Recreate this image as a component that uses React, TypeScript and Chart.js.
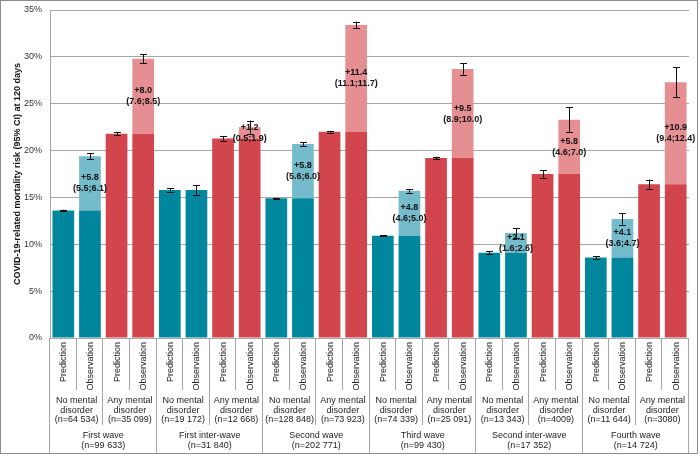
import { useEffect, useRef } from 'react';
import { Chart, registerables, type Plugin } from 'chart.js';

Chart.register(...registerables);

// periods and their sizes
const periods = ['First wave', 'First inter-wave', 'Second wave', 'Third wave', 'Second inter-wave', 'Fourth wave'];
const periodN = ['99 633', '31 840', '202 771', '99 430', '17 352', '14 724'];

// two groups per period
const groupNames = [['No mental', 'disorder'], ['Any mental', 'disorder']];
const groupN = ['64 534', '35 099', '19 172', '12 668', '128 848', '73 923', '74 339', '25 091', '13 343', '4009', '11 644', '3080'];

const barKinds = ['Prediction', 'Observation'];

// risk in %, one per group
const predicted = [13.6, 21.8, 15.8, 21.3, 14.9, 22.0, 10.9, 19.2, 9.1, 17.5, 8.6, 16.4];
const predLow = [13.5, 21.65, 15.6, 21.05, 14.85, 21.9, 10.85, 19.05, 8.95, 17.1, 8.45, 15.9];
const predHigh = [13.7, 21.95, 16.0, 21.55, 14.95, 22.1, 10.95, 19.35, 9.25, 17.9, 8.75, 16.9];

const observed = [19.4, 29.8, 15.8, 22.5, 20.7, 33.4, 15.7, 28.7, 11.2, 23.3, 12.7, 27.3];
const obsLow = [19.1, 29.3, 15.3, 21.8, 20.5, 33.05, 15.5, 28.1, 10.7, 22.0, 12.1, 25.7];
const obsHigh = [19.7, 30.3, 16.3, 23.2, 20.9, 33.75, 15.9, 29.3, 11.7, 24.6, 13.3, 28.9];

// excess mortality (observed - predicted) with CI
const excess: (number | null)[] = [5.8, 8.0, null, 1.2, 5.8, 11.4, 4.8, 9.5, 2.1, 5.8, 4.1, 10.9];
const excessLow = [5.5, 7.6, 0, 0.5, 5.6, 11.1, 4.6, 8.9, 1.6, 4.6, 3.6, 9.4];
const excessHigh = [6.1, 8.5, 0, 1.9, 6.0, 11.7, 5.0, 10.0, 2.6, 7.0, 4.7, 12.4];

const yTicks = [0, 5, 10, 15, 20, 25, 30, 35];

const FONT = '"Liberation Sans", Arial, sans-serif';
const TEAL = '#00879d';
const TEAL_LIGHT = '#74bbcc';
const RED = '#d3454d';
const RED_LIGHT = '#e68f92';

const barLabels = predicted.flatMap(() => barKinds);
const baseValues = predicted.flatMap(p => [p, p]);
const extraValues = predicted.flatMap((p, g) => [0, Math.max(0, +(observed[g] - p).toFixed(1))]);
const baseColors = barLabels.map((_, j) => (Math.floor(j / 2) % 2 === 0 ? TEAL : RED));
const extraColors = barLabels.map((_, j) => (Math.floor(j / 2) % 2 === 0 ? TEAL_LIGHT : RED_LIGHT));

const overlay: Plugin<'bar'> = {
    id: 'overlay',
    afterDatasetsDraw(chart) {
        const { ctx } = chart;
        const x = chart.scales.x;
        const y = chart.scales.y;
        ctx.save();

        // excess labels in the light segment
        ctx.font = `bold 9px ${FONT}`;
        ctx.fillStyle = '#111';
        ctx.textAlign = 'center';
        ctx.textBaseline = 'middle';
        excess.forEach((d, g) => {
            if (d == null) return;
            const cx = x.getPixelForValue(g * 2 + 1);
            const mid = (y.getPixelForValue(predicted[g]) + y.getPixelForValue(observed[g])) / 2;
            ctx.fillText(`+${d.toFixed(1)}`, cx, mid - 5.5);
            ctx.fillText(`(${excessLow[g].toFixed(1)};${excessHigh[g].toFixed(1)})`, cx, mid + 5.5);
        });

        // error bars
        ctx.strokeStyle = '#111';
        ctx.lineWidth = 1;
        barLabels.forEach((_, j) => {
            const g = Math.floor(j / 2);
            const lo = j % 2 === 0 ? predLow[g] : obsLow[g];
            const hi = j % 2 === 0 ? predHigh[g] : obsHigh[g];
            const cx = Math.round(x.getPixelForValue(j)) + 0.5;
            const y1 = y.getPixelForValue(lo);
            const y2 = y.getPixelForValue(hi);
            ctx.beginPath();
            ctx.moveTo(cx, y1);
            ctx.lineTo(cx, y2);
            ctx.moveTo(cx - 3.5, Math.round(y1) + 0.5);
            ctx.lineTo(cx + 3.5, Math.round(y1) + 0.5);
            ctx.moveTo(cx - 3.5, Math.round(y2) + 0.5);
            ctx.lineTo(cx + 3.5, Math.round(y2) + 0.5);
            ctx.stroke();
        });
        ctx.restore();
    },
    afterDraw(chart) {
        const { ctx, chartArea } = chart;
        const x = chart.scales.x;
        const n = barLabels.length;
        const bottom = chartArea.bottom;
        const edge = (b: number) =>
            b === 0 ? chartArea.left : b === n ? chartArea.right : (x.getPixelForValue(b - 1) + x.getPixelForValue(b)) / 2;

        ctx.save();
        // separators
        ctx.strokeStyle = '#a6a6a6';
        ctx.lineWidth = 1;
        for (let b = 0; b <= n; b++) {
            const px = Math.round(edge(b)) - 0.5;
            const len = b % 4 === 0 ? 115 : b % 2 === 0 ? 87 : 52;
            ctx.beginPath();
            ctx.moveTo(px, bottom);
            ctx.lineTo(px, bottom + len);
            ctx.stroke();
        }

        ctx.font = `9px ${FONT}`;
        ctx.fillStyle = '#222';

        // Prediction / Observation, rotated
        ctx.textAlign = 'right';
        ctx.textBaseline = 'middle';
        barLabels.forEach((t, j) => {
            ctx.save();
            ctx.translate(x.getPixelForValue(j) + 0.5, bottom + 4);
            ctx.rotate(-Math.PI / 2);
            ctx.fillText(t, 0, 0);
            ctx.restore();
        });

        ctx.textAlign = 'center';
        groupN.forEach((nText, g) => {
            const cx = (edge(g * 2) + edge(g * 2 + 2)) / 2;
            const lines = [...groupNames[g % 2], `(n=${nText})`];
            lines.forEach((t, k) => ctx.fillText(t, cx, bottom + 63 + k * 9.3));
        });
        periods.forEach((p, i) => {
            const cx = (edge(i * 4) + edge(i * 4 + 4)) / 2;
            ctx.fillText(p, cx, bottom + 98);
            ctx.fillText(`(n=${periodN[i]})`, cx, bottom + 107.3);
        });

        // frame
        ctx.strokeStyle = '#8c8c8c';
        ctx.strokeRect(0.5, 0.5, 697, 453);
        ctx.restore();
    }
};

export default function App() {
    const canvas = useRef<HTMLCanvasElement>(null);

    useEffect(() => {
        document.body.style.margin = '0';
        const chart = new Chart(canvas.current as HTMLCanvasElement, {
            type: 'bar',
            data: {
                labels: barLabels,
                datasets: [
                    {
                        data: baseValues,
                        backgroundColor: baseColors,
                        barPercentage: 0.815,
                        categoryPercentage: 1
                    },
                    {
                        data: extraValues,
                        backgroundColor: extraColors,
                        barPercentage: 0.815,
                        categoryPercentage: 1
                    }
                ]
            },
            options: {
                animation: false,
                responsive: true,
                maintainAspectRatio: false,
                layout: { padding: { top: 10, right: 11, left: 0, bottom: 0 } },
                plugins: {
                    legend: { display: false },
                    tooltip: { enabled: false }
                },
                scales: {
                    x: {
                        stacked: true,
                        grid: { display: false },
                        border: { display: false },
                        ticks: { display: false },
                        afterFit: (s) => { s.height = 118; }
                    },
                    y: {
                        stacked: true,
                        min: yTicks[0],
                        max: yTicks[yTicks.length - 1],
                        afterBuildTicks: (s) => { s.ticks = yTicks.map(v => ({ value: v })); },
                        ticks: {
                            callback: (v) => `${v}%`,
                            padding: 8,
                            color: '#333',
                            font: { family: FONT, size: 9 }
                        },
                        grid: { color: '#a6a6a6', drawTicks: false },
                        border: { color: '#a6a6a6' },
                        title: {
                            display: true,
                            text: 'COVID-19-related mortality risk (95% CI) at 120 days',
                            color: '#111',
                            font: { family: FONT, size: 9, weight: 'bold' },
                            padding: { top: 12, bottom: 0 }
                        },
                        afterFit: (s) => {
                            s.width = 50;
                            s.paddingTop = 0;
                            s.paddingBottom = 0;
                        }
                    }
                }
            },
            plugins: [overlay]
        });

        return () => {
            chart.destroy();
        };
    }, []);

    return (
        <div style={{ position: 'relative', width: 700, height: 456 }}>
            <canvas ref={canvas} />
        </div>
    );
}
